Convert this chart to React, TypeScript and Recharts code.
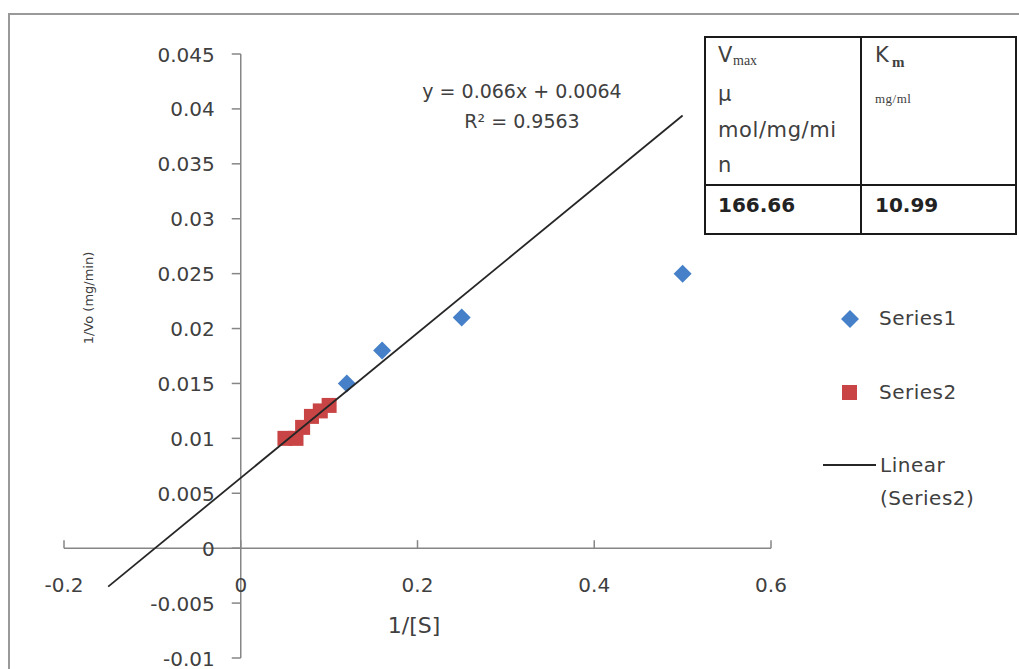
import {
  ScatterChart,
  Scatter,
  XAxis,
  YAxis,
  ReferenceLine,
  ReferenceDot,
} from "recharts";

// Lineweaver-Burk data
const series1X = [0.12, 0.16, 0.25, 0.5];
const series1Y = [0.015, 0.018, 0.021, 0.025];
const series2X = [0.05, 0.0625, 0.07, 0.08, 0.09, 0.1];
const series2Y = [0.01, 0.01, 0.011, 0.012, 0.0125, 0.013];

// linear trendline of Series2
const trendSlope = 0.066;
const trendIntercept = 0.0064;
const trendX = [-0.15, 0.5];

const xTicks = [-0.2, 0, 0.2, 0.4, 0.6];
const xTickLabels = ["-0.2", "0", "0.2", "0.4", "0.6"];
const yTicks = [-0.01, -0.005, 0, 0.005, 0.01, 0.015, 0.02, 0.025, 0.03, 0.035, 0.04, 0.045];
const yTickLabels = ["-0.01", "-0.005", "0", "0.005", "0.01", "0.015", "0.02", "0.025", "0.03", "0.035", "0.04", "0.045"];

const FONT = "'DejaVu Sans', sans-serif";
const SERIF = "'Liberation Serif', serif";
const AXIS = "#868686";
const TEXT = "#404040";
const BLUE = "#4580c8";
const RED = "#c94545";

const Diamond = (p: any) => (
  <polygon
    points={`${p.cx},${p.cy - 9} ${p.cx + 9},${p.cy} ${p.cx},${p.cy + 9} ${p.cx - 9},${p.cy}`}
    fill={BLUE}
  />
);

const Square = (p: any) => (
  <rect x={p.cx - 7.5} y={p.cy - 7.5} width={15} height={15} fill={RED} />
);

const NoDot = () => <g />;

export default function App() {
  const s1 = series1X.map((x, i) => ({ x, y: series1Y[i] }));
  const s2 = series2X.map((x, i) => ({ x, y: series2Y[i] }));
  const trend = trendX.map((x) => ({ x, y: trendSlope * x + trendIntercept }));

  return (
    <div
      style={{
        position: "absolute",
        left: 0,
        top: 0,
        width: 1019,
        height: 669,
        overflow: "hidden",
        background: "#fff",
      }}
    >
      <ScatterChart
        width={1019}
        height={669}
        margin={{ top: 54, right: 248, bottom: 11, left: 64 }}
      >
        <XAxis type="number" dataKey="x" domain={[-0.2, 0.6]} hide allowDataOverflow />
        <YAxis type="number" dataKey="y" domain={[-0.01, 0.045]} hide allowDataOverflow />
        <ReferenceLine x={0} stroke={AXIS} strokeWidth={1.5} ifOverflow="visible" />
        <ReferenceLine y={0} stroke={AXIS} strokeWidth={1.5} ifOverflow="visible" />
        {yTicks.map((v, i) => (
          <ReferenceDot
            key={"yt" + i}
            x={0}
            y={v}
            r={0}
            ifOverflow="visible"
            shape={(p: any) => (
              <g>
                <line x1={p.cx - 9} x2={p.cx} y1={p.cy} y2={p.cy} stroke={AXIS} strokeWidth={1.5} />
                <text
                  x={p.cx - 26}
                  y={p.cy + 2}
                  textAnchor="end"
                  dominantBaseline="middle"
                  fontFamily={FONT}
                  fontSize={20}
                  fill={TEXT}
                >
                  {yTickLabels[i]}
                </text>
              </g>
            )}
          />
        ))}
        {xTicks.map((v, i) => (
          <ReferenceDot
            key={"xt" + i}
            x={v}
            y={0}
            r={0}
            ifOverflow="visible"
            shape={(p: any) => (
              <g>
                <line x1={p.cx} x2={p.cx} y1={p.cy} y2={p.cy - 8} stroke={AXIS} strokeWidth={1.5} />
                <text
                  x={p.cx}
                  y={p.cy + 38}
                  textAnchor="middle"
                  dominantBaseline="middle"
                  fontFamily={FONT}
                  fontSize={20}
                  fill={TEXT}
                >
                  {xTickLabels[i]}
                </text>
              </g>
            )}
          />
        ))}
        <Scatter name="Series1" data={s1} fill={BLUE} shape={Diamond} isAnimationActive={false} />
        <Scatter name="Series2" data={s2} fill={RED} shape={Square} isAnimationActive={false} />
        <Scatter
          name="Linear (Series2)"
          data={trend}
          line={{ stroke: "#262626", strokeWidth: 1.8 }}
          shape={NoDot}
          isAnimationActive={false}
        />
      </ScatterChart>

      <svg
        width={1019}
        height={669}
        style={{ position: "absolute", left: 0, top: 0, pointerEvents: "none" }}
      >
        {/* chart frame */}
        <path d="M9,669 L9,14 L1019,14" fill="none" stroke="#999" strokeWidth={2} />

        {/* trendline equation */}
        <text x={522} y={92} textAnchor="middle" dominantBaseline="middle" fontFamily={FONT} fontSize={19} fill={TEXT}>
          y = 0.066x + 0.0064
        </text>
        <text x={522} y={122} textAnchor="middle" dominantBaseline="middle" fontFamily={FONT} fontSize={19} fill={TEXT}>
          R² = 0.9563
        </text>

        {/* axis titles */}
        <text x={414} y={627} textAnchor="middle" dominantBaseline="middle" fontFamily={FONT} fontSize={22} fill={TEXT}>
          1/[S]
        </text>
        <text
          x={89}
          y={298}
          textAnchor="middle"
          dominantBaseline="middle"
          fontFamily={FONT}
          fontSize={13}
          fill={TEXT}
          transform="rotate(-90 89 298)"
        >
          1/Vo (mg/min)
        </text>

        {/* legend */}
        <polygon points="850,310 859,319 850,328 841,319" fill={BLUE} />
        <text x={879} y={319} dominantBaseline="middle" fontFamily={FONT} fontSize={20} fill={TEXT} letterSpacing={0.5}>
          Series1
        </text>
        <rect x={842} y={385} width={15} height={15} fill={RED} />
        <text x={879} y={393} dominantBaseline="middle" fontFamily={FONT} fontSize={20} fill={TEXT} letterSpacing={0.5}>
          Series2
        </text>
        <line x1={823} x2={876} y1={465} y2={465} stroke="#262626" strokeWidth={1.8} />
        <text x={880} y={466} dominantBaseline="middle" fontFamily={FONT} fontSize={20} fill={TEXT} letterSpacing={0.5}>
          Linear
        </text>
        <text x={880} y={499} dominantBaseline="middle" fontFamily={FONT} fontSize={20} fill={TEXT} letterSpacing={0.5}>
          (Series2)
        </text>

        {/* Vmax / Km table */}
        <rect x={705} y={37} width={311} height={197} fill="#fff" stroke="#1a1a1a" strokeWidth={2} />
        <line x1={861} x2={861} y1={37} y2={234} stroke="#1a1a1a" strokeWidth={2} />
        <line x1={705} x2={1016} y1={185} y2={185} stroke="#1a1a1a" strokeWidth={2} />

        <text x={718} y={62} fontFamily={FONT} fontSize={21} fill={TEXT}>V</text>
        <text x={733} y={65} fontFamily={SERIF} fontSize={14} fill={TEXT}>max</text>
        <text x={718} y={101} fontFamily={FONT} fontSize={21} fill={TEXT}>µ</text>
        <text x={718} y={137} fontFamily={FONT} fontSize={21} fill={TEXT} letterSpacing={0.6}>mol/mg/mi</text>
        <text x={718} y={172} fontFamily={FONT} fontSize={21} fill={TEXT}>n</text>

        <text x={875} y={62} fontFamily={FONT} fontSize={21} fill={TEXT}>K</text>
        <text x={892} y={67} fontFamily={SERIF} fontSize={15} fontWeight="bold" fill={TEXT}>m</text>
        <text x={875} y={103} fontFamily={SERIF} fontSize={13} fill={TEXT} letterSpacing={0.5}>mg/ml</text>

        <text x={718} y={212} fontFamily={FONT} fontSize={20} fontWeight="bold" fill="#222">166.66</text>
        <text x={875} y={212} fontFamily={FONT} fontSize={20} fontWeight="bold" fill="#222">10.99</text>
      </svg>
    </div>
  );
}
